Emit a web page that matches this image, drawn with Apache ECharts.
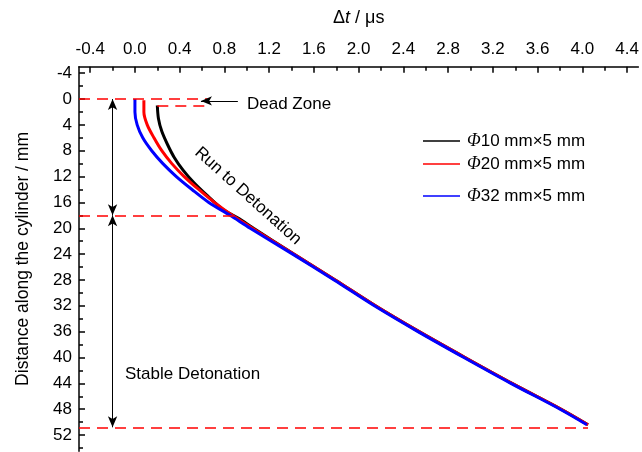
<!DOCTYPE html>
<html>
<head>
<meta charset="utf-8">
<script src="https://cdn.jsdelivr.net/npm/echarts@6/dist/echarts.min.js"></script>
<style>
html,body{margin:0;padding:0;background:#fff;}
#c{width:642px;height:452px;}
</style>
</head>
<body>
<div id="c"></div>
<script>
// ---- data (Δt in μs, distance in mm) ----
const seriesNames = ['Φ10 mm×5 mm', 'Φ20 mm×5 mm', 'Φ32 mm×5 mm'];
const tBlack = [0.20, 0.21, 0.24, 0.29, 0.35, 0.43, 0.53, 0.65, 0.78, 0.93, 1.06, 1.42, 1.79, 2.15, 2.54, 2.95, 3.37, 3.81, 4.05];
const dBlack = [1.0, 3, 5, 7, 9, 11, 13, 15, 17, 18.5, 20, 24, 28, 32, 36, 40, 44, 48, 50.4];
const tRed = [0.08, 0.08, 0.11, 0.17, 0.24, 0.33, 0.44, 0.57, 0.71, 0.87, 1.05, 1.42, 1.79, 2.15, 2.54, 2.95, 3.37, 3.81, 4.05];
const dRed = [0.2, 2, 4, 6, 8, 10, 12, 14, 16, 18, 20, 24, 28, 32, 36, 40, 44, 48, 50.4];
const tBlue = [0.0, 0.0, 0.02, 0.07, 0.15, 0.25, 0.37, 0.51, 0.66, 0.85, 1.03, 1.41, 1.78, 2.14, 2.53, 2.94, 3.36, 3.80, 4.04];
const dBlue = [0.0, 2, 4, 6, 8, 10, 12, 14, 16, 18, 20, 24, 28, 32, 36, 40, 44, 48, 50.4];
const xTicks = [-0.4, 0.0, 0.4, 0.8, 1.2, 1.6, 2.0, 2.4, 2.8, 3.2, 3.6, 4.0, 4.4];
const xMinorTicks = [-0.2, 0.2, 0.6, 1.0, 1.4, 1.8, 2.2, 2.6, 3.0, 3.4, 3.8, 4.2];
const yTicks = [-4, 0, 4, 8, 12, 16, 20, 24, 28, 32, 36, 40, 44, 48, 52];
const yMinorTicks = [-2, 2, 6, 10, 14, 18, 22, 26, 30, 34, 38, 42, 46, 50, 54];
// zone boundaries (mm) and annotation positions
const deadZoneTop = 0, deadZoneBottom = 1.0, runEnd = 18, stableEnd = 50.8;

const pairs = (t, d) => t.map((v, i) => [v, d[i]]);
const FONT = "'Liberation Sans', Arial, sans-serif";
const chart = echarts.init(document.getElementById('c'), null, {renderer: 'canvas'});

const red = '#ff0000';
const dashStyle = {color: red, type: [11, 7], width: 1.5};
const arrowStyle = {color: '#000', type: 'solid', width: 1};

function legendFor(name, top) {
  return {
    data: [name], left: 423, top: top, icon: 'rect', itemWidth: 37, itemHeight: 1.6,
    itemGap: 0, padding: 0, selectedMode: false,
    formatter: n => '{p|Φ}{n|' + n.slice(1) + '}',
    textStyle: {
      padding: [0, 0, 0, 2],
      rich: {
        p: {fontFamily: "'Liberation Serif', 'DejaVu Serif', serif", fontStyle: 'italic', fontSize: 18, color: '#000'},
        n: {fontFamily: FONT, fontSize: 17, color: '#000'}
      }
    }
  };
}

const option = {
  backgroundColor: '#fff',
  animation: false,
  grid: {left: 79, top: 66.7, width: 560, height: 384.5, containLabel: false, show: false},
  xAxis: [{
    type: 'value', position: 'top', min: -0.5, max: 4.5,
    name: '{a|Δ}{i|t}{a| / μs}', nameLocation: 'middle', nameGap: 40,
    nameTextStyle: {rich: {a: {fontFamily: FONT, fontSize: 18, color: '#000'}, i: {fontFamily: FONT, fontSize: 18, fontStyle: 'italic', color: '#000'}}},
    axisLine: {show: true, onZero: false, lineStyle: {color: '#000', width: 1.5}},
    axisTick: {show: true, inside: true, length: 6, customValues: xTicks, lineStyle: {color: '#000', width: 1.5}},
    axisLabel: {customValues: xTicks, formatter: v => v.toFixed(1), fontFamily: FONT, fontSize: 17, color: '#000', margin: 9},
    splitLine: {show: false}
  }, {
    type: 'value', position: 'top', min: -0.5, max: 4.5,
    axisLine: {show: false, onZero: false},
    axisTick: {show: true, inside: true, length: 4, customValues: xMinorTicks, lineStyle: {color: '#000', width: 1.5}},
    axisLabel: {show: false},
    splitLine: {show: false}
  }],
  yAxis: [{
    type: 'value', inverse: true, min: -5, max: 54.5, position: 'left',
    name: 'Distance along the cylinder / mm', nameLocation: 'middle', nameGap: 47, nameRotate: 90,
    nameTextStyle: {fontFamily: FONT, fontSize: 17.5, color: '#000'},
    axisLine: {show: true, onZero: false, lineStyle: {color: '#000', width: 1.5}},
    axisTick: {show: true, inside: true, length: 6, customValues: yTicks, lineStyle: {color: '#000', width: 1.5}},
    axisLabel: {customValues: yTicks, fontFamily: FONT, fontSize: 17, color: '#000', margin: 7},
    splitLine: {show: false}
  }, {
    type: 'value', inverse: true, min: -5, max: 54.5, position: 'left',
    axisLine: {show: false, onZero: false},
    axisTick: {show: true, inside: true, length: 4, customValues: yMinorTicks, lineStyle: {color: '#000', width: 1.5}},
    axisLabel: {show: false},
    splitLine: {show: false}
  }],
  legend: [legendFor(seriesNames[0], 132), legendFor(seriesNames[1], 155), legendFor(seriesNames[2], 187)],
  series: [{
    name: seriesNames[0], type: 'line', smooth: 0.3, showSymbol: false, symbol: 'none',
    color: '#000', lineStyle: {width: 3, color: '#000'},
    data: pairs(tBlack, dBlack),
    markLine: {
      silent: true, animation: false, symbol: ['none', 'none'], symbolSize: [7, 11],
      label: {show: false},
      data: [
        [{coord: [-0.5, deadZoneTop], lineStyle: dashStyle}, {coord: [0.65, deadZoneTop]}],
        [{coord: [0.2, deadZoneBottom], lineStyle: dashStyle}, {coord: [0.65, deadZoneBottom]}],
        [{coord: [-0.5, runEnd], lineStyle: dashStyle}, {coord: [0.89, runEnd]}],
        [{coord: [-0.5, stableEnd], lineStyle: dashStyle}, {coord: [4.05, stableEnd]}],
        [{coord: [-0.2, deadZoneTop], symbol: 'arrow', lineStyle: arrowStyle}, {coord: [-0.2, runEnd], symbol: 'arrow'}],
        [{coord: [-0.2, runEnd], symbol: 'arrow', lineStyle: arrowStyle}, {coord: [-0.2, stableEnd], symbol: 'arrow'}],
        [{coord: [0.92, 0.3], symbol: 'none', lineStyle: arrowStyle}, {coord: [0.59, 0.3], symbol: 'arrow'}]
      ]
    }
  }, {
    name: seriesNames[1], type: 'line', smooth: 0.3, showSymbol: false, symbol: 'none',
    color: red, lineStyle: {width: 3, color: red},
    data: pairs(tRed, dRed)
  }, {
    name: seriesNames[2], type: 'line', smooth: 0.3, showSymbol: false, symbol: 'none',
    color: '#0000ff', lineStyle: {width: 3, color: '#0000ff'},
    data: pairs(tBlue, dBlue)
  }],
  graphic: [
    {type: 'text', left: 247, top: 96, style: {text: 'Dead Zone', fontFamily: FONT, fontSize: 17, fill: '#000'}},
    {type: 'text', left: 125, top: 366, style: {text: 'Stable Detonation', fontFamily: FONT, fontSize: 17, fill: '#000'}},
    {type: 'text', x: 248, y: 196, rotation: -42 * Math.PI / 180,
      style: {text: 'Run to Detonation', fontFamily: FONT, fontSize: 17, fill: '#000', align: 'center', verticalAlign: 'middle'}}
  ]
};
chart.setOption(option);
</script>
</body>
</html>
